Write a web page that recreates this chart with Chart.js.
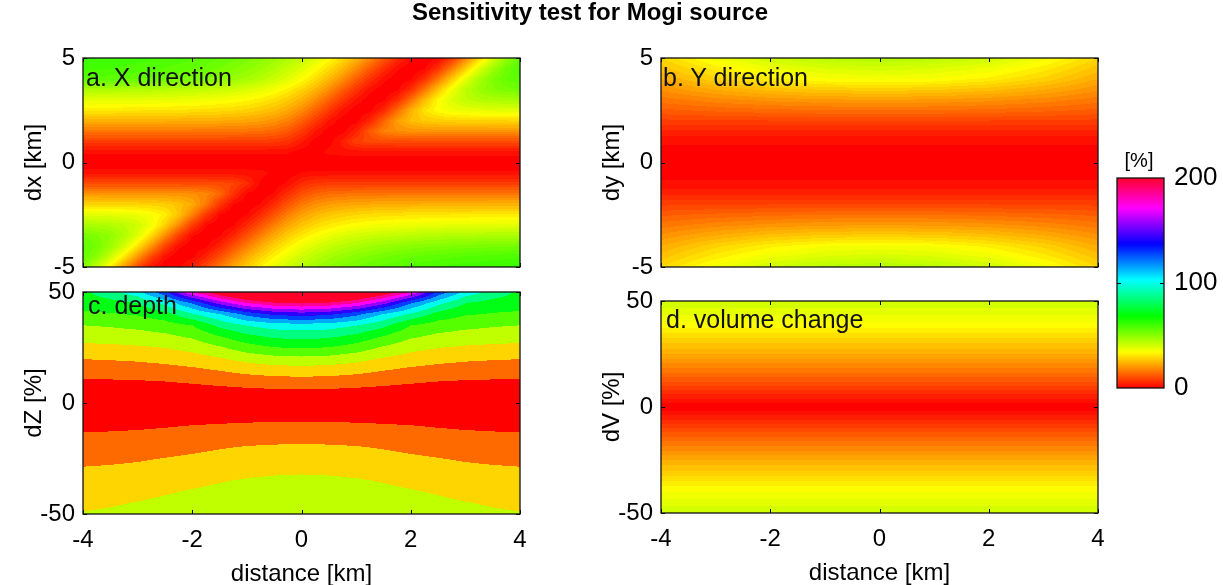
<!DOCTYPE html>
<html>
<head>
<meta charset="utf-8">
<script src="https://cdn.jsdelivr.net/npm/chart.js@4.4.1/dist/chart.umd.min.js"></script>
<style>
  html, body { margin: 0; padding: 0; background: #fff; }
  #fig { position: relative; width: 1223px; height: 585px; overflow: hidden;
         font-family: "Liberation Sans", Arial, sans-serif; }
  #fig canvas { position: absolute; left: 0; top: 0; }
  .txt { position: absolute; white-space: nowrap; line-height: 1; color: #000; }
</style>
</head>
<body>
<div id="fig">
  <canvas id="panelA" width="1223" height="585"></canvas>
  <canvas id="panelB" width="1223" height="585"></canvas>
  <canvas id="panelC" width="1223" height="585"></canvas>
  <canvas id="panelD" width="1223" height="585"></canvas>
  <canvas id="colorbar" width="1223" height="585"></canvas>
  <div class="txt" style="left:390px;width:400px;top:0px;text-align:center;font-weight:bold;font-size:24px;">Sensitivity test for Mogi source</div>
  <div class="txt" style="left:86px;top:65px;font-size:25px;color:#111;">a. X direction</div>
  <div class="txt" style="left:663px;top:65px;font-size:25px;color:#111;">b. Y direction</div>
  <div class="txt" style="left:88px;top:293px;font-size:25px;color:#111;">c. depth</div>
  <div class="txt" style="left:666px;top:307px;font-size:25px;color:#111;">d. volume change</div>
  <div class="txt" style="left:1119px;width:40px;top:150px;text-align:center;font-size:20px;">[%]</div>
</div>
<script>
// ---- grid nodes and tick values ----
const distanceFine = [-4,-3.75,-3.5,-3.25,-3,-2.75,-2.5,-2.25,-2,-1.75,-1.5,-1.25,-1,-0.75,-0.5,-0.25,
                      0,0.25,0.5,0.75,1,1.25,1.5,1.75,2,2.25,2.5,2.75,3,3.25,3.5,3.75,4];
const distanceKm = [-4,-3.5,-3,-2.5,-2,-1.5,-1,-0.5,0,0.5,1,1.5,2,2.5,3,3.5,4];
const distanceCoarse = [-4,-3,-2,-1,0,1,2,3,4];
const distanceEnds = [-4,4];
const offsetKm = [5,4.5,4,3.5,3,2.5,2,1.5,1,0.5,0,-0.5,-1,-1.5,-2,-2.5,-3,-3.5,-4,-4.5,-5];
const changePct = [50,45,40,35,30,25,20,15,10,5,0,-5,-10,-15,-20,-25,-30,-35,-40,-45,-50];
const distanceTicks = [-4,-2,0,2,4];
const offsetTicks = [-5,0,5];
const changeTicks = [-50,0,50];
const colorbarTicks = [0,100,200];

// ---- misfit [%] : rows follow offsetKm / changePct, columns follow distance ----
// a. source shifted in X (columns: distanceFine)
const xDirMisfit = [
  [62.4,62.1,61.7,61.3,60.9,60.4,59.7,59.1,58.3,57.3,56,54.6,53,51.2,49,46.4,43.4,39.9,35.6,31,25.6,19.5,13.1,7.1,2.3,0.3,1.6,7.7,18,29.2,40.3,49.6,56.4],
  [60.7,60.4,60,59.6,59.1,58.6,57.9,57.2,56.3,55.1,53.9,52.3,50.6,48.5,46.1,43.1,39.8,35.5,31,25.9,19.8,13.4,7.4,2.5,0.3,1.5,7.4,17.5,28.5,39.4,48.2,54.4,58.7],
  [57.6,57.3,56.9,56.5,56,55.6,54.9,54.1,53.1,52,50.7,49.2,47.4,45.3,42.4,39.3,35.5,31.1,26.1,20.1,13.8,7.7,2.8,0.4,1.4,7,16.9,27.8,38.4,46.6,52.2,56,58.1],
  [46.6,46.4,46.3,46.1,45.8,45.5,45.2,44.7,44.1,43.4,42.6,41.6,40.3,38.6,36.4,33.5,30,25.7,20.1,14,8,3,0.5,1.3,6.7,16.4,27,36.8,44.1,48.8,51.7,53.3,54.4],
  [39,38.9,38.8,38.7,38.5,38.3,38.1,37.8,37.5,37,36.4,35.6,34.6,33.2,31.1,28.5,24.9,20,14.3,8.3,3.3,0.6,1.2,6.3,15.8,25.9,34.6,40.4,43.6,45.5,46.4,47,47.4],
  [32.5,32.5,32.4,32.3,32.2,32.1,31.9,31.7,31.5,31.2,30.8,30.2,29.4,28.1,26.4,23.7,19.7,14.4,8.6,3.4,0.6,1.1,6,15,24.5,31.5,35.4,37.3,38.2,38.8,39.1,39.2,39.4],
  [24.8,24.8,24.8,24.7,24.7,24.6,24.6,24.5,24.4,24.2,24,23.6,23.2,22.3,20.9,18.3,14.1,8.8,3.6,0.7,1,5.6,14.1,22.1,26.4,28.3,29,29.4,29.6,29.7,29.8,29.8,29.9],
  [16.9,16.9,16.9,16.9,16.9,16.9,16.9,16.9,16.8,16.8,16.7,16.6,16.3,15.9,15,12.8,8.8,3.9,0.8,0.9,5.3,13,18.1,20,20.5,20.7,20.8,20.9,20.9,20.9,20.9,20.9,20.9],
  [9,9,9,9,9,9,9,9,9,9,9,9,8.9,8.8,8.5,7.3,4.2,0.9,0.8,4.8,9.5,10.7,10.9,11,11,11,11,11,11,11,11,11,11],
  [2.5,2.5,2.5,2.5,2.5,2.5,2.5,2.5,2.5,2.5,2.5,2.5,2.5,2.5,2.5,2.35,0.9,0.7,2.8,3,3,3,3,3,3,3,3,3,3,3,3,3,3],
  [0,0,0,0,0,0,0,0,0,0,0,0,0,0,0,0,0,0,0,0,0,0,0,0,0,0,0,0,0,0,0,0,0],
  [3,3,3,3,3,3,3,3,3,3,3,3,3,2.9,1.4,0.4,2.1,2.5,2.5,2.5,2.5,2.5,2.5,2.5,2.5,2.5,2.5,2.5,2.5,2.5,2.5,2.5,2.5],
  [11,11,11,11,11,11,11,11,11,11,10.8,10.2,6.8,1.5,0.3,2.5,6.3,8.2,8.7,8.9,9,9,9,9,9,9,9,9,9,9,9,9,9],
  [20.9,20.9,20.9,20.9,20.9,20.9,20.8,20.6,20.2,19,15.3,7.7,1.7,0.3,2.3,7,11.5,14.4,15.7,16.2,16.5,16.7,16.8,16.9,17,17,17,17,17,17,17,17,17],
  [29.8,29.8,29.7,29.6,29.5,29.2,28.7,27.3,24,17.4,8.2,1.8,0.2,2,6.7,12.3,17,20.1,21.9,22.9,23.5,23.9,24.2,24.3,24.5,24.6,24.7,24.8,24.8,24.8,24.9,24.9,24.9],
  [39.3,39.2,38.9,38.5,37.7,36.2,33.2,27.4,18.5,8.5,1.9,0.1,1.8,6.4,12.2,17.9,22.4,25.5,27.6,29,29.9,30.7,31.1,31.4,31.7,31.9,32,32.2,32.3,32.4,32.4,32.5,32.5],
  [47.1,46.6,45.9,44.3,41.8,37.1,29.4,19.4,8.9,2,0,1.6,6.1,12.1,18,23.3,27.3,30.3,32.5,34.1,35.3,36.2,36.9,37.3,37.7,38,38.3,38.5,38.6,38.8,38.9,39,39.1],
  [53.8,52.4,50,46.2,39.8,30.7,20,9.2,2.2,0.1,1.5,5.9,11.8,18,23.8,28.6,32.3,35.4,37.8,39.8,41.2,42.3,43.2,43.8,44.5,45.1,45.4,45.7,45.9,46.2,46.3,46.5,46.7],
  [56.9,53.8,49,41.5,31.7,20.8,9.9,2.6,0.2,1.4,5.6,11.5,17.8,23.9,29.2,33.5,37.3,40.3,42.9,44.9,46.6,47.9,49,49.9,50.8,51.4,52,52.4,52.9,53.1,53.4,53.6,53.9],
  [56.1,50.8,42.8,32.5,21.4,10.4,2.9,0.3,1.3,5.4,11.2,17.7,23.8,29.3,33.9,38.2,41.6,44.6,47.2,49.3,51,52.4,53.7,54.8,55.7,56.5,57.1,57.7,58.1,58.5,58.9,59.2,59.5],
  [52.4,43.9,33.3,22,11,3.3,0.4,1.2,5.2,10.9,17.3,23.5,29.1,33.9,38.4,42.1,45.4,48.1,50.4,52.5,54.1,55.6,56.8,57.9,58.9,59.6,60.2,60.7,61.2,61.6,62,62.3,62.6]
];

// b. source shifted in Y (columns: distanceCoarse)
const yDirMisfit = [
  [30,37,42,45,46,45,42,37,30],
  [27,33,37.5,40,41,40,37.5,33,27],
  [24,29.4,33.4,35.8,36.5,35.8,33.4,29.4,24],
  [20.5,24.2,26.9,28.5,29,28.5,26.9,24.2,20.5],
  [17,19.2,20.8,21.7,22,21.7,20.8,19.2,17],
  [13.5,14.6,15.4,15.9,16,15.9,15.4,14.6,13.5],
  [9.5,9.7,9.9,10,10,10,9.9,9.7,9.5],
  [5.5,5.5,5.5,5.5,5.5,5.5,5.5,5.5,5.5],
  [2.5,2.5,2.5,2.5,2.5,2.5,2.5,2.5,2.5],
  [0.8,0.7,0.7,0.7,0.7,0.7,0.7,0.7,0.8],
  [0,0,0,0,0,0,0,0,0],
  [0.8,0.7,0.7,0.7,0.7,0.7,0.7,0.7,0.8],
  [2.5,2.5,2.5,2.5,2.5,2.5,2.5,2.5,2.5],
  [5.5,5.5,5.5,5.5,5.5,5.5,5.5,5.5,5.5],
  [9.5,9.7,9.9,10,10,10,9.9,9.7,9.5],
  [13.5,14.6,15.4,15.9,16,15.9,15.4,14.6,13.5],
  [17,19.2,20.8,21.7,22,21.7,20.8,19.2,17],
  [20.5,24.2,26.9,28.5,29,28.5,26.9,24.2,20.5],
  [24,29.4,33.4,35.8,36.5,35.8,33.4,29.4,24],
  [27,33,37.5,40,41,40,37.5,33,27],
  [30,37,42,45,46,45,42,37,30]
];

// c. source depth changed (columns: distanceKm)
const depthMisfit = [
  [83,95.2,109.8,140,187,215,236,250,255,250,236,215,187,140,109.8,95.2,83],
  [77.5,80,85.7,104.6,129.6,162.6,185.7,197.8,202,197.8,185.7,162.6,129.6,104.6,85.7,80,77.5],
  [69,70.2,72.7,79.9,98.4,113,132.7,145.7,149.6,145.7,132.7,113,98.4,79.9,72.7,70.2,69],
  [57.1,58.7,61.2,65,71.4,89.6,100.8,106.8,108.5,106.8,100.8,89.6,71.4,65,61.2,58.7,57.1],
  [48.4,49.3,50.9,53.9,59.5,70.8,81.8,88.5,90.2,88.5,81.8,70.8,59.5,53.9,50.9,49.3,48.4],
  [39.2,39.9,41.1,43.3,47.6,55.4,65,71,72.8,71,65,55.4,47.6,43.3,41.1,39.9,39.2],
  [29,29.8,31,33.2,36.5,41.5,47.9,52.1,53.5,52.1,47.9,41.5,36.5,33.2,31,29.8,29],
  [20.7,21.3,22.1,23.7,26,29.6,33.8,36.4,37.2,36.4,33.8,29.6,26,23.7,22.1,21.3,20.7],
  [13,13.3,13.8,14.7,16.3,18.5,21.1,23,23.6,23,21.1,18.5,16.3,14.7,13.8,13.3,13],
  [7.1,7.3,7.5,7.9,8.6,9.4,10.3,11,11.3,11,10.3,9.4,8.6,7.9,7.5,7.3,7.1],
  [1.2,1.3,1.4,1.5,1.5,1.7,1.8,1.9,1.9,1.9,1.8,1.7,1.5,1.5,1.4,1.3,1.2],
  [4.8,5,5.3,5.8,6.4,7,7.6,7.9,8.1,7.9,7.6,7,6.4,5.8,5.3,5,4.8],
  [10.7,11.2,11.9,13,14.3,15.3,16.3,16.8,17,16.8,16.3,15.3,14.3,13,11.9,11.2,10.7],
  [16.2,16.7,17.4,18.5,19.9,21.5,23,23.8,24.1,23.8,23,21.5,19.9,18.5,17.4,16.7,16.2],
  [20.8,21.4,22.3,23.7,25.6,27.7,29.4,30.2,30.5,30.2,29.4,27.7,25.6,23.7,22.3,21.4,20.8],
  [25.4,26.1,27.2,28.9,30.7,32.7,34.3,35.3,35.6,35.3,34.3,32.7,30.7,28.9,27.2,26.1,25.4],
  [29.7,30.4,31.5,33.2,35.2,37.4,39.3,40.4,40.8,40.4,39.3,37.4,35.2,33.2,31.5,30.4,29.7],
  [33.4,34.2,35.5,37.5,39.8,42.1,43.9,45,45.5,45,43.9,42.1,39.8,37.5,35.5,34.2,33.4],
  [37,37.9,39.5,41.8,43.9,45.7,47.6,48.6,49,48.6,47.6,45.7,43.9,41.8,39.5,37.9,37],
  [40.6,41.7,43.3,45.3,47.4,49,50.8,51.8,52.2,51.8,50.8,49,47.4,45.3,43.3,41.7,40.6],
  [43.5,44.5,46.5,48.5,50.5,52,53.5,54.6,55,54.6,53.5,52,50.5,48.5,46.5,44.5,43.5]
];

// d. volume change does not vary along the profile: one value per dV row
const volumeMisfit = [42,39,36,32,28,24,19.5,15,10,5,0.5,5,10,15,19.5,24,28,32,36,39,42];

// ---- colour scale: hue runs red -> yellow -> green -> cyan -> blue -> magenta over 0..200 % ----
const SCALE_MAX = 200;
function hsvColor(v) {
  const h = Math.min(Math.max(v, 0), SCALE_MAX) * 1.75;
  const hp = h / 60, i = Math.floor(hp) % 6, f = hp - Math.floor(hp), q = 1 - f;
  let rgb;
  switch (i) {
    case 0: rgb = [1, f, 0]; break;
    case 1: rgb = [q, 1, 0]; break;
    case 2: rgb = [0, 1, f]; break;
    case 3: rgb = [0, q, 1]; break;
    case 4: rgb = [f, 0, 1]; break;
    default: rgb = [1, 0, q];
  }
  return rgb.map(c => Math.round(c * 255));
}

// ---- plugin: shades the plot area from the node values (bilinear between nodes, filled contour levels) ----
const fieldPlugin = {
  id: 'fieldShading',
  beforeDatasetsDraw(chart) {
    const ds = chart.data.datasets[0];
    if (!ds || !ds.gridV) return;
    const a = chart.chartArea;
    const sx = chart.scales.x, sy = chart.scales.y;
    const w = Math.round(a.right - a.left), h = Math.round(a.bottom - a.top);
    const off = document.createElement('canvas');
    off.width = w; off.height = h;
    const octx = off.getContext('2d');
    const img = octx.createImageData(w, h);
    const gx = ds.gridX, gy = ds.gridY, gv = ds.gridV, step = ds.levelStep;
    const clamp = t => Math.min(1, Math.max(0, t));
    for (let py = 0; py < h; py++) {
      const yv = sy.getValueForPixel(a.top + py + 0.5);
      let i = 0;
      while (i < gy.length - 2 && yv < gy[i + 1]) i++;
      const ty = clamp((gy[i] - yv) / (gy[i] - gy[i + 1]));
      for (let px = 0; px < w; px++) {
        const xv = sx.getValueForPixel(a.left + px + 0.5);
        let j = 0;
        while (j < gx.length - 2 && xv > gx[j + 1]) j++;
        const tx = clamp((xv - gx[j]) / (gx[j + 1] - gx[j]));
        const top = (1 - tx) * gv[i][j] + tx * gv[i][j + 1];
        const bot = (1 - tx) * gv[i + 1][j] + tx * gv[i + 1][j + 1];
        const v = (1 - ty) * top + ty * bot;
        const level = Math.min(Math.floor(v / step) * step, SCALE_MAX);
        const [r, g, b] = hsvColor(level);
        const k = (py * w + px) * 4;
        img.data[k] = r; img.data[k + 1] = g; img.data[k + 2] = b; img.data[k + 3] = 255;
      }
    }
    octx.putImageData(img, 0, 0);
    chart.ctx.drawImage(off, a.left, a.top);
  }
};

// ---- plugin: boxed axes with inward tick marks ----
const framePlugin = {
  id: 'frame',
  afterDatasetsDraw(chart, args, opts) {
    const { ctx, chartArea: a } = chart;
    const sx = chart.scales.x, sy = chart.scales.y;
    const L = 4;
    ctx.save();
    ctx.strokeStyle = '#000';
    ctx.lineWidth = 1;
    ctx.beginPath();
    (opts.xTicks || []).forEach(v => {
      const p = Math.round(sx.getPixelForValue(v)) + 0.5;
      ctx.moveTo(p, a.top); ctx.lineTo(p, a.top + L);
      ctx.moveTo(p, a.bottom); ctx.lineTo(p, a.bottom - L);
    });
    (opts.yTicks || []).forEach(v => {
      const p = Math.round(sy.getPixelForValue(v)) + 0.5;
      ctx.moveTo(a.left, p); ctx.lineTo(a.left + L, p);
      ctx.moveTo(a.right, p); ctx.lineTo(a.right - L, p);
    });
    ctx.stroke();
    ctx.lineWidth = 1.3;
    ctx.strokeStyle = '#111';
    ctx.strokeRect(a.left, a.top, a.right - a.left, a.bottom - a.top);
    ctx.restore();
  }
};

Chart.defaults.font.family = '"Liberation Sans", Arial, sans-serif';
Chart.defaults.color = '#000';

const tickFont = { size: 24 };
const titleFont = { size: 24 };

function gridNodes(xs, ys, rows) {
  const nodes = [];
  rows.forEach((row, i) => row.forEach((v, j) => nodes.push({ x: xs[j], y: ys[i], v })));
  return nodes;
}

function fieldPanel(id, cfg) {
  return new Chart(document.getElementById(id), {
    type: 'scatter',
    data: {
      datasets: [{
        data: gridNodes(cfg.xs, cfg.ys, cfg.rows),
        pointRadius: 0,
        gridX: cfg.xs, gridY: cfg.ys, gridV: cfg.rows, levelStep: cfg.step
      }]
    },
    options: {
      responsive: false, animation: false, devicePixelRatio: 1, events: [],
      layout: { autoPadding: false, padding: cfg.pad },
      plugins: {
        legend: { display: false }, tooltip: { enabled: false },
        frame: { xTicks: distanceTicks, yTicks: cfg.yTicks }
      },
      scales: {
        x: {
          type: 'linear', min: -4, max: 4, position: 'bottom',
          grid: { display: false, drawTicks: false }, border: { display: false },
          afterBuildTicks: s => { s.ticks = distanceTicks.map(value => ({ value })); },
          ticks: { display: cfg.showX, font: tickFont, padding: 12, maxRotation: 0, autoSkip: false },
          title: { display: cfg.showX, text: 'distance [km]', font: titleFont, padding: { top: 0, bottom: -14 } },
          afterFit: s => { s.height = cfg.showX ? 61 : 0; }
        },
        y: {
          type: 'linear', min: cfg.yTicks[0], max: cfg.yTicks[cfg.yTicks.length - 1], position: 'left',
          grid: { display: false, drawTicks: false }, border: { display: false },
          afterBuildTicks: s => { s.ticks = cfg.yTicks.map(value => ({ value })); },
          ticks: { font: tickFont, padding: 8, autoSkip: false },
          title: { display: true, text: cfg.yTitle, font: titleFont, padding: { top: 20, bottom: 0 } },
          afterFit: s => { s.width = 83; }
        }
      }
    },
    plugins: [fieldPlugin, framePlugin]
  });
}

// a. X direction
fieldPanel('panelA', {
  xs: distanceFine, ys: offsetKm, rows: xDirMisfit, step: 2,
  yTicks: offsetTicks, yTitle: 'dx [km]', showX: false,
  pad: { left: 0, right: 703, top: 58, bottom: 318 }
});
// b. Y direction
fieldPanel('panelB', {
  xs: distanceCoarse, ys: offsetKm, rows: yDirMisfit, step: 2,
  yTicks: offsetTicks, yTitle: 'dy [km]', showX: false,
  pad: { left: 578, right: 125, top: 58, bottom: 318 }
});
// c. depth
fieldPanel('panelC', {
  xs: distanceKm, ys: changePct, rows: depthMisfit, step: SCALE_MAX / 14,
  yTicks: changeTicks, yTitle: 'dZ [%]', showX: true,
  pad: { left: 0, right: 703, top: 292, bottom: 10 }
});
// d. volume change
fieldPanel('panelD', {
  xs: distanceEnds, ys: changePct, rows: volumeMisfit.map(v => [v, v]), step: 2,
  yTicks: changeTicks, yTitle: 'dV [%]', showX: true,
  pad: { left: 578, right: 125, top: 301, bottom: 11 }
});

// colour bar
new Chart(document.getElementById('colorbar'), {
  type: 'bar',
  data: {
    labels: [''],
    datasets: [{
      data: [[colorbarTicks[0], colorbarTicks[colorbarTicks.length - 1]]],
      borderWidth: 0, barPercentage: 1, categoryPercentage: 1,
      backgroundColor: c => {
        const chart = c.chart;
        if (!chart.chartArea) return '#f00';
        const y = chart.scales.y;
        const g = chart.ctx.createLinearGradient(0, y.getPixelForValue(0), 0, y.getPixelForValue(SCALE_MAX));
        for (let k = 0; k <= 100; k++) {
          const v = k * SCALE_MAX / 100;
          const [r, gg, b] = hsvColor(v);
          g.addColorStop(k / 100, `rgb(${r},${gg},${b})`);
        }
        return g;
      }
    }]
  },
  options: {
    responsive: false, animation: false, devicePixelRatio: 1, events: [],
    layout: { autoPadding: false, padding: { left: 1117, right: 0, top: 178, bottom: 197 } },
    plugins: { legend: { display: false }, tooltip: { enabled: false }, frame: { yTicks: [100] } },
    scales: {
      x: { display: false },
      y: {
        position: 'right', min: 0, max: SCALE_MAX,
        grid: { display: false, drawTicks: false }, border: { display: false },
        afterBuildTicks: s => { s.ticks = colorbarTicks.map(value => ({ value })); },
        ticks: { font: { size: 26 }, padding: 10, autoSkip: false },
        afterFit: s => { s.width = 59; }
      }
    }
  },
  plugins: [framePlugin]
});
</script>
</body>
</html>
